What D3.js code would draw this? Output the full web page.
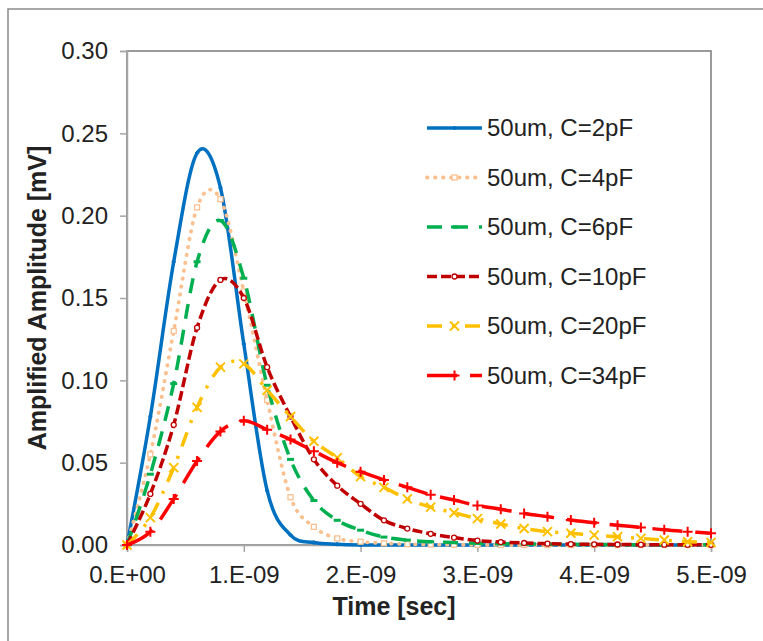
<!DOCTYPE html>
<html>
<head>
<meta charset="utf-8">
<script src="https://cdn.jsdelivr.net/npm/d3@7"></script>
<style>
  body { margin: 0; background: #fff; }
  text { font-family: "Liberation Sans", Arial, sans-serif; fill: #222; }
</style>
</head>
<body>
<svg width="763" height="641"></svg>
<script>
// time samples in ns
var timeNs = [0, 0.2, 0.4, 0.6, 0.8, 1.0, 1.2, 1.4, 1.6, 1.8, 2.0, 2.2, 2.4, 2.6, 2.8, 3.0,
              3.2, 3.4, 3.6, 3.8, 4.0, 4.2, 4.4, 4.6, 4.8, 5.0];

// amplified amplitude [mV]
var amp2pF  = [0, 0.078, 0.172, 0.238, 0.217, 0.122, 0.033, 0.006, 0.0015, 0.0004, 0, 0, 0,
               0, 0, 0, 0, 0, 0, 0, 0, 0, 0, 0, 0, 0];
var amp4pF  = [0, 0.055, 0.130, 0.205, 0.210, 0.154, 0.088, 0.029, 0.011, 0.004, 0.002, 0.001,
               0.0005, 0.0003, 0.0002, 0.0001, 0, 0, 0, 0, 0, 0, 0, 0, 0, 0];
var amp6pF  = [0, 0.043, 0.098, 0.172, 0.197, 0.162, 0.097, 0.052, 0.027, 0.015, 0.009, 0.0048,
               0.003, 0.002, 0.0015, 0.001, 0.0008, 0.0006, 0.0005, 0.0004, 0.0003, 0.0002,
               0.0002, 0.0001, 0.0001, 0.0001];
var amp10pF = [0, 0.031, 0.073, 0.132, 0.161, 0.150, 0.108, 0.078, 0.052, 0.036, 0.025, 0.015,
               0.010, 0.0068, 0.0045, 0.0027, 0.0018, 0.0012, 0.0008, 0.0005, 0.0004, 0.0003,
               0.0002, 0.0002, 0.0001, 0.0001];
var amp20pF = [0, 0.0166, 0.047, 0.0836, 0.108, 0.110, 0.094, 0.078, 0.063, 0.053, 0.0415, 0.035,
               0.028, 0.023, 0.0196, 0.016, 0.0128, 0.010, 0.0081, 0.0071, 0.006, 0.005, 0.004,
               0.003, 0.002, 0.0015];
var amp34pF = [0, 0.008, 0.028, 0.051, 0.069, 0.0755, 0.070, 0.064, 0.057, 0.050, 0.0445, 0.0395,
               0.035, 0.0305, 0.0273, 0.024, 0.0217, 0.0192, 0.0172, 0.0152, 0.0135, 0.012,
               0.0107, 0.0092, 0.0081, 0.0071];

var seriesNames = ["50um, C=2pF", "50um, C=4pF", "50um, C=6pF",
                   "50um, C=10pF", "50um, C=20pF", "50um, C=34pF"];
var seriesValues = [amp2pF, amp4pF, amp6pF, amp10pF, amp20pF, amp34pF];

var yTicks = [0, 0.05, 0.10, 0.15, 0.20, 0.25, 0.30];
var xTicks = [0, 1e-9, 2e-9, 3e-9, 4e-9, 5e-9];
var xTickLabels = ["0.E+00", "1.E-09", "2.E-09", "3.E-09", "4.E-09", "5.E-09"];

// line looks
var styles = [
  { color: "#0070C0", dash: null,          width: 3.5, marker: "plus",   msize: 4 },
  { color: "#FAC090", dash: "0.5,7.5",     width: 3.8, marker: "square", msize: 5, cap: "round" },
  { color: "#00B050", dash: "15,11",       width: 3.5, marker: "dash",   msize: 7 },
  { color: "#C00000", dash: "10,4",        width: 3.5, marker: "circle", msize: 5 },
  { color: "#FFC000", dash: "15,10,3,10",  width: 3.5, marker: "x",      msize: 9 },
  { color: "#FF0000", dash: "30,13",       width: 3.5, marker: "plus",   msize: 10 }
];

var svg = d3.select("svg");

// chart frame
svg.append("path")
    .attr("d", "M8,641V9H763")
    .attr("fill", "none")
    .attr("stroke", "#8a8a8a")
    .attr("stroke-width", 1.5);

var x = d3.scaleLinear().domain([0, 5e-9]).range([127, 711]);
var y = d3.scaleLinear().domain([0, 0.30]).range([545, 51]);

// plot area border
svg.append("rect")
    .attr("x", 127).attr("y", 51)
    .attr("width", 711 - 127).attr("height", 545 - 51)
    .attr("fill", "none")
    .attr("stroke", "#7a7a7a")
    .attr("stroke-width", 1.5);

var yAxis = svg.append("g")
    .attr("transform", "translate(127,0)")
    .call(d3.axisLeft(y).tickValues(yTicks).tickSize(7).tickPadding(12)
      .tickFormat(d3.format(".2f")));

var xAxis = svg.append("g")
    .attr("transform", "translate(0,545)")
    .call(d3.axisBottom(x).tickValues(xTicks).tickSize(7).tickPadding(14)
      .tickFormat(function(d, i) { return xTickLabels[i]; }));

[yAxis, xAxis].forEach(function(g) {
  g.select(".domain").attr("stroke", "#a6a6a6").attr("stroke-width", 1.5);
  g.selectAll(".tick line").attr("stroke", "#a6a6a6").attr("stroke-width", 1.5);
  g.selectAll(".tick text").attr("font-size", "24px").attr("fill", "#222")
    .style("font-family", "'Liberation Sans', Arial, sans-serif");
});

svg.append("text")
    .attr("x", 394).attr("y", 615)
    .attr("text-anchor", "middle")
    .attr("font-size", "25px").attr("font-weight", "bold")
    .text("Time [sec]");

svg.append("text")
    .attr("transform", "translate(46,298) rotate(-90)")
    .attr("text-anchor", "middle")
    .attr("font-size", "25px").attr("font-weight", "bold")
    .text("Amplified Amplitude [mV]");

svg.append("clipPath").attr("id", "plotclip")
  .append("rect").attr("x", 120).attr("y", 45).attr("width", 597).attr("height", 506);

var line = d3.line()
    .x(function(d) { return x(d[0] * 1e-9); })
    .y(function(d) { return y(d[1]); })
    .curve(d3.curveCardinal.tension(0));

function drawMarker(g, type, cx, cy, s, color) {
  var h = s / 2;
  if (type === "plus") {
    g.append("path").attr("d", "M" + (cx - h) + "," + cy + "H" + (cx + h) + "M" + cx + "," + (cy - h) + "V" + (cy + h))
      .attr("stroke", color).attr("stroke-width", 2).attr("fill", "none");
  } else if (type === "x") {
    g.append("path").attr("d", "M" + (cx - h) + "," + (cy - h) + "L" + (cx + h) + "," + (cy + h) +
        "M" + (cx - h) + "," + (cy + h) + "L" + (cx + h) + "," + (cy - h))
      .attr("stroke", color).attr("stroke-width", 2).attr("fill", "none");
  } else if (type === "square") {
    g.append("rect").attr("x", cx - h).attr("y", cy - h).attr("width", s).attr("height", s)
      .attr("stroke", color).attr("stroke-width", 1.3).attr("fill", "#fff");
  } else if (type === "circle") {
    g.append("circle").attr("cx", cx).attr("cy", cy).attr("r", h)
      .attr("stroke", color).attr("stroke-width", 1.3).attr("fill", "#fff");
  } else if (type === "dash") {
    g.append("path").attr("d", "M" + (cx - h) + "," + cy + "H" + (cx + h))
      .attr("stroke", color).attr("stroke-width", 3).attr("fill", "none");
  }
}

var plot = svg.append("g").attr("clip-path", "url(#plotclip)");

seriesValues.forEach(function(vals, i) {
  var st = styles[i];
  var pts = timeNs.map(function(t, j) { return [t, vals[j]]; });
  var g = plot.append("g");
  g.append("path")
      .datum(pts)
      .attr("d", line)
      .attr("fill", "none")
      .attr("stroke", st.color)
      .attr("stroke-width", st.width)
      .attr("stroke-dasharray", st.dash)
      .attr("stroke-linecap", st.cap || "butt");
  pts.forEach(function(p) {
    drawMarker(g, st.marker, x(p[0] * 1e-9), y(p[1]), st.msize, st.color);
  });
});

// legend
var legend = svg.append("g");
seriesNames.forEach(function(name, i) {
  var st = styles[i];
  var ly = 128 + i * 49.5;
  legend.append("path")
      .attr("d", "M427," + ly + "H482")
      .attr("fill", "none")
      .attr("stroke", st.color)
      .attr("stroke-width", st.width)
      .attr("stroke-dasharray", st.dash)
      .attr("stroke-linecap", st.cap || "butt");
  drawMarker(legend, st.marker, 454.5, ly, st.msize, st.color);
  legend.append("text")
      .attr("x", 487).attr("y", ly)
      .attr("dy", "0.35em")
      .attr("font-size", "24px")
      .text(name);
});
</script>
</body>
</html>
